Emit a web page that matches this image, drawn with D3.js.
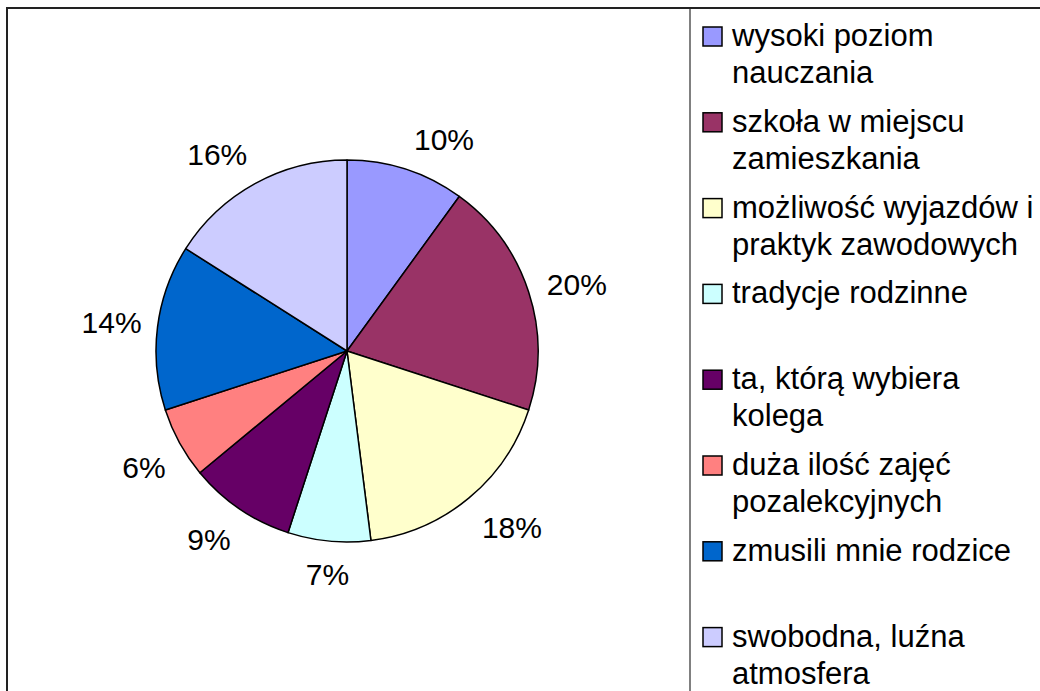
<!DOCTYPE html>
<html>
<head>
<meta charset="utf-8">
<script src="https://cdn.jsdelivr.net/npm/d3@7"></script>
<style>
  body { margin: 0; background: #fff; }
  svg { display: block; font-family: "Liberation Sans", Arial, sans-serif; }
</style>
</head>
<body>
<svg id="chart" width="1040" height="691"></svg>
<script>
// dane z wykresu
const categories = [
  ["wysoki poziom", "nauczania"],
  ["szkoła w miejscu", "zamieszkania"],
  ["możliwość wyjazdów i", "praktyk zawodowych"],
  ["tradycje rodzinne"],
  ["ta, którą wybiera", "kolega"],
  ["duża ilość zajęć", "pozalekcyjnych"],
  ["zmusili mnie rodzice"],
  ["swobodna, luźna", "atmosfera"]
];
const values = [10, 20, 18, 7, 9, 6, 14, 16];
const colors = ["#9999FF", "#993366", "#FFFFCC", "#CCFFFF", "#660066", "#FF8080", "#0066CC", "#CCCCFF"];

const svg = d3.select("#chart");
const W = 1040, H = 691;
const cx = 347, cy = 351, radius = 191;

function drawRect(svg, x, y, w, h, fill, strokeWidth, stroke) {
  return svg.append("rect")
    .attr("x", x)
    .attr("y", y)
    .attr("width", w)
    .attr("height", h)
    .attr("fill", fill)
    .attr("stroke", stroke)
    .attr("stroke-width", strokeWidth);
}

function drawTxt(svg, tx, ty, txt, fill, size, anchor = "start") {
  return svg.append("text")
    .attr("x", tx)
    .attr("y", ty)
    .attr("fill", fill)
    .attr("font-size", size)
    .style("text-anchor", anchor)
    .text(txt);
}

// ramka wykresu
drawRect(svg, 7, 8, W + 10, H + 10, "#fff", 2, "#222");
// legenda - lewa krawędź
svg.append("line")
  .attr("x1", 690).attr("x2", 690)
  .attr("y1", 9).attr("y2", H)
  .attr("stroke", "#808080")
  .attr("stroke-width", 2);

// wykres kołowy
const pie = d3.pie().sort(null).value(d => d);
const arcs = pie(values);
const arc = d3.arc().innerRadius(0).outerRadius(radius);

const g = svg.append("g").attr("transform", `translate(${cx},${cy})`);
g.selectAll("path")
  .data(arcs)
  .enter()
  .append("path")
  .attr("d", arc)
  .attr("fill", (d, i) => colors[i])
  .attr("stroke", "#000")
  .attr("stroke-width", 1.5)
  .attr("stroke-linejoin", "round");

// etykiety procentowe - poza kołem, wyrównanie zależne od kąta
const labelR = radius + 16;
arcs.forEach((d, i) => {
  let a = (d.startAngle + d.endAngle) / 2;
  let s = Math.sin(a), c = Math.cos(a);
  let px = cx + labelR * s;
  let py = cy - labelR * c;
  let anchor = "middle";
  if (s > 0.15) { anchor = "start"; px += 3; }
  else if (s < -0.15) { anchor = "end"; }
  let by;
  if (c > 0.45) by = py - 4.5;
  else if (c < -0.45) by = py + 27.5;
  else by = py + 8;
  let total = d3.sum(values);
  drawTxt(svg, px, by, Math.round(d.value / total * 100) + "%", "#000", 30, anchor);
});

// legenda
const legendX = 703, legendTop = 46, legendStep = 85.8, lineStep = 37, boxSize = 19;
categories.forEach((lines, i) => {
  let by = legendTop + i * legendStep;
  drawRect(svg, legendX, by - boxSize, boxSize, boxSize, colors[i], 1.5, "#000");
  lines.forEach((ln, j) => {
    drawTxt(svg, legendX + 29, by + j * lineStep, ln, "#000", 31);
  });
});
</script>
</body>
</html>
